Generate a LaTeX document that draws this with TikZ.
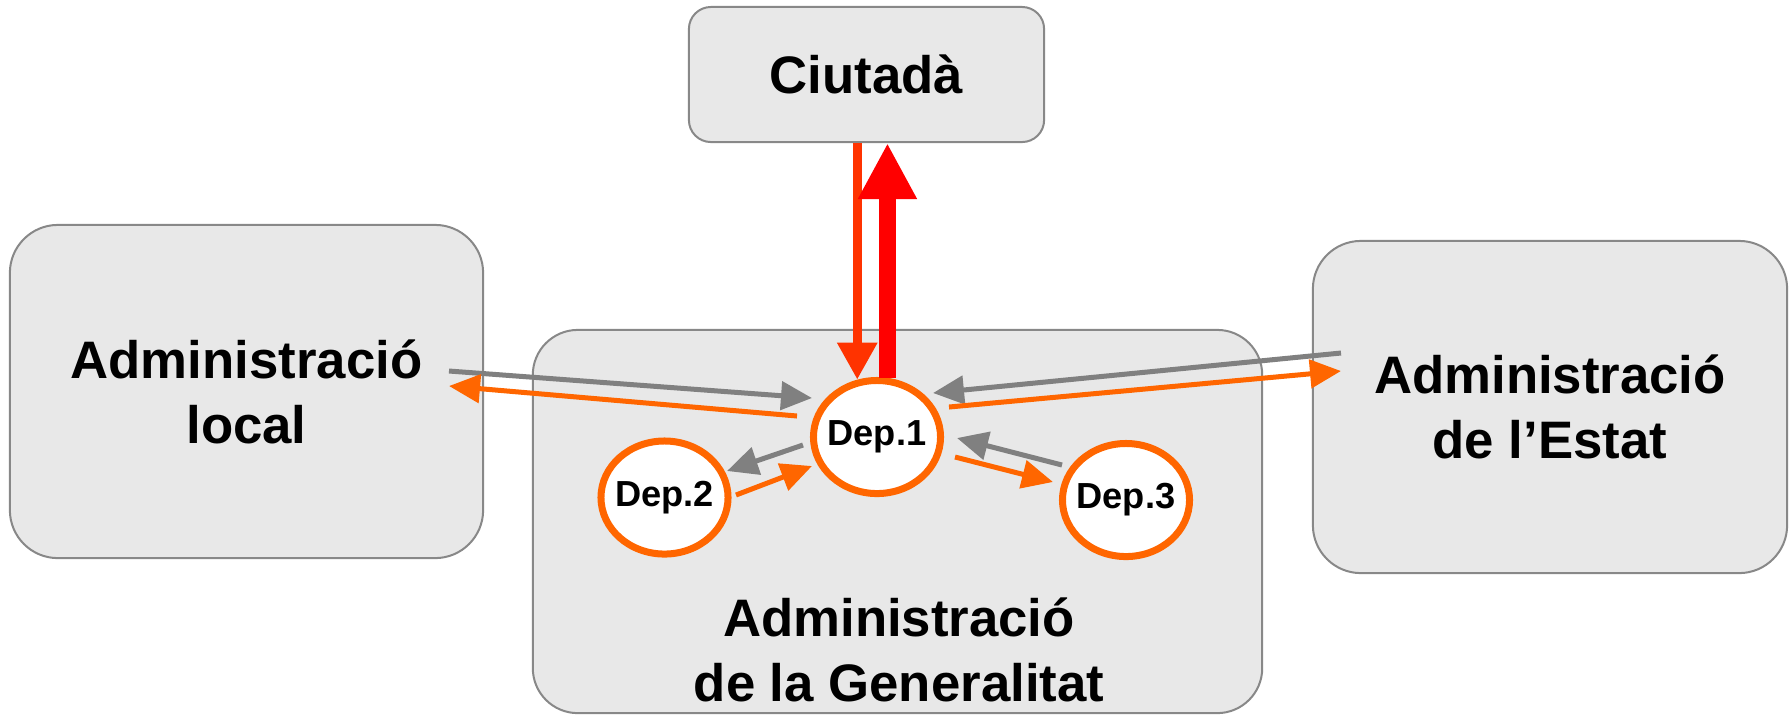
\documentclass[tikz,border=0pt]{standalone}
\usepackage{fontspec}
\setmainfont{Liberation Sans}
\usetikzlibrary{shapes.geometric,arrows.meta}
\definecolor{boxfill}{HTML}{E8E8E8}
\definecolor{boxline}{HTML}{888888}
\definecolor{arrgray}{HTML}{808080}
\definecolor{deporange}{HTML}{FF6600}
\definecolor{citred}{HTML}{FF0000}
\definecolor{citorange}{HTML}{FF3300}
\newcommand{\bigfont}{\fontsize{15pt}{18.5pt}\selectfont\bfseries}
\newcommand{\depfont}{\fontsize{10.3pt}{12pt}\selectfont\bfseries}
\begin{document}
\begin{tikzpicture}[
            x=0.01cm, y=-0.01cm,
            box/.style={draw=boxline,fill=boxfill,line width=0.02cm,rounded corners=0.48cm,inner sep=0pt,align=center,font=\bigfont},
            dep/.style={ellipse,draw=deporange,fill=white,line width=0.07cm,minimum width=1.27cm,minimum height=1.13cm,inner xsep=-0.1cm,inner ysep=0pt,font=\depfont},
            flow/.style={-{Triangle[width=0.28cm,length=0.31cm]},line width=0.05cm},
            ask/.style={flow,arrgray},
            reply/.style={flow,deporange}
            ]
            \useasboundingbox (0,0) rectangle (1791,714);
            % administracions
            \node[box,minimum width=3.55cm,minimum height=1.35cm,rounded corners=0.22cm] (ciut) at (866.5,74.5) {Ciutadà};
            \node[box,minimum width=4.73cm,minimum height=3.33cm] (local) at (246.5,391.5) {Administració\\local};
            \node[box,minimum width=4.74cm,minimum height=3.32cm] (estat) at (1550,407) {Administració\\de l’Estat};
            \node[box,minimum width=7.29cm,minimum height=3.83cm,rounded corners=0.45cm] (gen) at (897.5,521.5) {};
            \node[font=\bigfont,align=center,inner sep=0pt] (gentxt) at (899,650) {Administració\\de la Generalitat};
            % departaments
            \node[dep] (dep1) at (877,437) {Dep.1};
            \node[dep] (dep2) at (664.5,497.5) {Dep.2};
            \node[dep] (dep3) at (1126,500) {Dep.3};
            % fluxos
            \draw[ask] ([shift={(202.5,-20.5)}]local.center) -- ([shift={(-65,-39)}]dep1.center);
            \draw[reply] ([shift={(-80,-21)}]dep1.center) -- ([shift={(202.5,-5.5)}]local.center);
            \draw[ask] ([shift={(-74,8)}]dep1.center) -- ([shift={(62.5,-26.5)}]dep2.center);
            \draw[reply] ([shift={(71.5,-2.5)}]dep2.center) -- ([shift={(-65,29)}]dep1.center);
            \draw[ask] ([shift={(-209,-54)}]estat.center) -- ([shift={(56,-44)}]dep1.center);
            \draw[reply] ([shift={(72,-30)}]dep1.center) -- ([shift={(-209,-36)}]estat.center);
            \draw[ask] ([shift={(-64,-35)}]dep3.center) -- ([shift={(80,1)}]dep1.center);
            \draw[reply] ([shift={(78,20)}]dep1.center) -- ([shift={(-73,-18)}]dep3.center);
            \draw[citorange,line width=0.09cm,-{Triangle[width=0.38cm,length=0.37cm]}] (ciut.south -| dep1.109) -- (dep1.109);
            \draw[citred,line width=0.17cm,-{Triangle[width=0.55cm,length=0.56cm]}] (dep1.80) -- (dep1.80 |- ciut.south);
\end{tikzpicture}
\end{document}
